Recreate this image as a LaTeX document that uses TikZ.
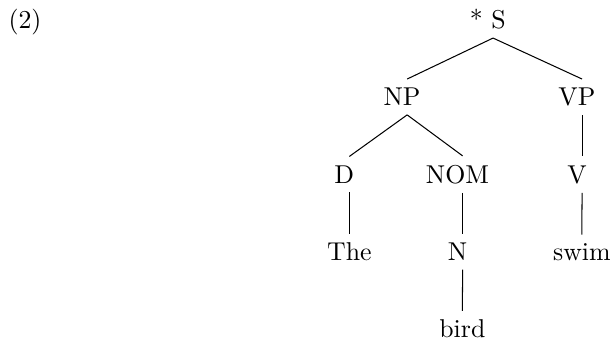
\documentclass[tikz,border=0pt]{standalone}

\begin{document}
\begin{tikzpicture}[
    x=1pt, y=1pt,
    every node/.style={anchor=base},
    cat/.style={execute at end node={\hspace{4pt}}}
]
\useasboundingbox (0,0) rectangle (237.2,-132.9);

% --- Example number ---
\node (num) at (9.7,-11) {(2)};

% --- Categories ---
\node[cat] (S)   at (191.1,-11)  {* S};
\node[cat] (NP)  at (157.8,-41)  {NP};
\node[cat] (VP)  at (225.6,-41)  {VP};
\node[cat] (D)   at (135.4,-71)  {D};
\node[cat] (NOM) at (179.3,-71)  {NOM};
\node[cat] (V)   at (225.6,-71)  {V};
\node[cat] (N)   at (179.3,-101) {N};

% --- Words ---
\node (the)  at (135.4,-101) {The};
\node (swim) at (225.5,-101) {swim};
\node (bird) at (179.2,-131) {bird};

% --- Branches ---
\draw (S.south) -- (NP.north);
\draw (S.south) -- (VP.north);
\draw (NP.south) -- (D.north);
\draw (NP.south) -- (NOM.north);
\draw (VP.south) -- (V.north);
\draw (D.south) -- (the.north);
\draw (NOM.south) -- (N.north);
\draw (V.south) -- (swim.north);
\draw (N.south) -- (bird.north);

\end{tikzpicture}
\end{document}
